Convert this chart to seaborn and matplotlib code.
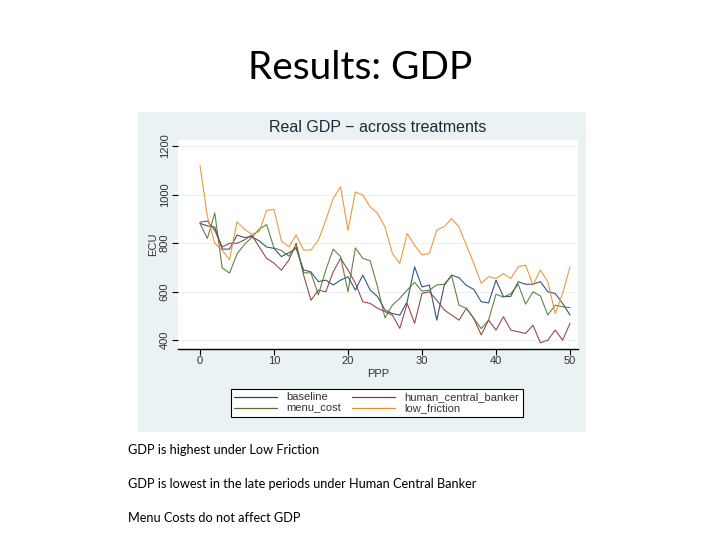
import matplotlib
matplotlib.use("Agg")
import matplotlib.pyplot as plt
from matplotlib.patches import Rectangle
from matplotlib.lines import Line2D
import seaborn as sns
import pandas as pd

periods = list(range(51))
baseline = [881, 871, 866, 775, 775, 833, 823, 826, 809, 784, 778, 744, 760, 778, 689, 681,
            641, 647, 627, 647, 661, 606, 668, 606, 579, 524, 509, 503, 558, 702, 619, 627,
            482, 625, 668, 657, 625, 609, 558, 553, 647, 579, 580, 640, 630, 630, 641, 599,
            592, 551, 503]
human_central_banker = [886, 891, 852, 784, 799, 799, 813, 833, 784, 737, 717, 688, 729, 799,
                        668, 564, 606, 599, 681, 737, 689, 634, 558, 551, 531, 517, 503, 448,
                        551, 469, 592, 599, 564, 524, 503, 482, 531, 489, 421, 482, 441, 496,
                        441, 434, 427, 461, 389, 399, 441, 399, 469]
menu_cost = [881, 819, 924, 698, 676, 755, 794, 823, 857, 876, 780, 770, 746, 784, 678, 676,
             586, 689, 775, 744, 599, 780, 737, 727, 619, 491, 544, 572, 606, 638, 601, 606,
             627, 630, 665, 544, 531, 489, 447, 482, 589, 577, 591, 630, 548, 599, 582, 503,
             544, 537, 534]
low_friction = [1120, 910, 799, 770, 731, 888, 857, 837, 847, 934, 939, 809, 784, 833, 771, 771,
                812, 894, 984, 1032, 852, 1011, 998, 949, 922, 867, 757, 716, 839, 791, 751, 757,
                854, 867, 901, 867, 791, 716, 634, 661, 654, 674, 654, 702, 709, 627, 689, 641,
                509, 592, 702]

series_names = ["baseline", "human_central_banker", "menu_cost", "low_friction"]
series_vals = [baseline, human_central_banker, menu_cost, low_friction]
colors = ["#1a476f", "#90353b", "#55752f", "#e8902a"]

df = pd.concat([pd.DataFrame({"ppp": periods, "ECU": v, "treatment": n})
                for n, v in zip(series_names, series_vals)], ignore_index=True)

sns.set_theme(style="white")
plt.rcParams["font.family"] = ["Liberation Sans", "DejaVu Sans"]

fig = plt.figure(figsize=(7.2, 5.4), dpi=100)
fig.patch.set_facecolor("white")

W, H = 720.0, 540.0
# Stata graph region background
fig.patches.append(Rectangle((138 / W, 1 - 432 / H), 448 / W, 320 / H,
                             transform=fig.transFigure, facecolor="#eaf2f3",
                             edgecolor="none", zorder=-5))

ax = fig.add_axes([178 / W, 1 - 349 / H, 400 / W, 209 / H])
ax.set_zorder(1)
ax.set_facecolor("white")
sns.lineplot(data=df, x="ppp", y="ECU", hue="treatment", hue_order=series_names,
             palette=colors, linewidth=0.8, alpha=0.9, ax=ax, legend=False)

ax.set_xlim(-2.97, 51.08)
ax.set_ylim(363, 1225)
ax.set_xticks([0, 10, 20, 30, 40, 50])
ax.set_yticks([400, 600, 800, 1000, 1200])
for yv in [400, 600, 800, 1000, 1200]:
    ax.axhline(yv, color="#eaf2f3", linewidth=0.8, zorder=0)
for s in ["top", "right", "left"]:
    ax.spines[s].set_visible(False)
ax.spines["bottom"].set_color("black")
ax.spines["bottom"].set_linewidth(1.0)
ax.tick_params(axis="x", direction="out", length=4, width=0.8, color="black",
               labelsize=8, labelcolor="#333333", pad=1, bottom=True)
ax.tick_params(axis="y", direction="out", length=4, width=0.8, color="black",
               labelsize=8, labelcolor="#333333", pad=2, left=True)
for lab in ax.get_yticklabels():
    lab.set_rotation(90)
    lab.set_va("center")
ax.set_xlabel("PPP", fontsize=8, color="#333333", labelpad=2)
ax.set_ylabel("ECU", fontsize=8, color="#333333", labelpad=1)

fig.text(378 / W, 1 - 127 / H, "Real GDP \u2212 across treatments", ha="center", va="center",
         fontsize=11.5, color="#1e2a38")

# legend
handles = [Line2D([0], [0], color=c, lw=0.9) for c in colors]
order = [0, 2, 1, 3]
leg = fig.legend([handles[i] for i in order], [series_names[i] for i in order],
                 ncol=2, loc="center", bbox_to_anchor=(377 / W, 1 - 403 / H),
                 frameon=True, fancybox=False, framealpha=1, fontsize=8, handlelength=3.8,
                 columnspacing=1.0, handletextpad=0.9, borderpad=0.35, labelspacing=0.1)
leg.get_frame().set_edgecolor("black")
leg.get_frame().set_linewidth(0.8)
leg.get_frame().set_facecolor("white")
for t in leg.get_texts():
    t.set_color("#333333")

# slide text
fig.text(360 / W, 1 - 68 / H, "Results: GDP", ha="center", va="center",
         fontsize=28, family=["Lato", "DejaVu Sans"], color="black")
bullets = ["GDP is highest under Low Friction",
           "GDP is lowest in the late periods under Human Central Banker",
           "Menu Costs do not affect GDP"]
for i, b in enumerate(bullets):
    fig.text(128 / W, 1 - (450 + 34 * i) / H, b, ha="left", va="center",
             fontsize=9.2, family=["Lato", "DejaVu Sans"], color="black")

fig.savefig("out.png", dpi=100, facecolor="white")
